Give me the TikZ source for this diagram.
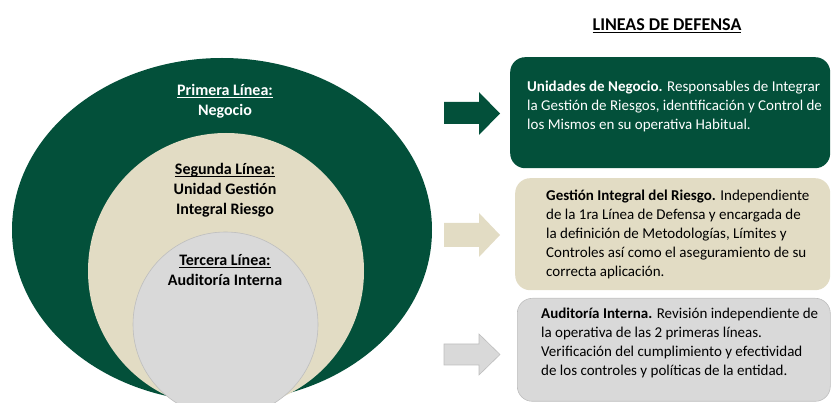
\documentclass[tikz,border=0pt]{standalone}
\usepackage{fontspec}
\setmainfont{Carlito}
\definecolor{dgreen}{RGB}{3,80,58}
\definecolor{beige}{RGB}{226,220,196}
\definecolor{lgrey}{RGB}{217,217,217}
\definecolor{bgrey}{RGB}{190,190,190}
\newcommand\myul[1]{\leavevmode\setbox0\hbox{#1}\rlap{\rule[-2.3pt]{\wd0}{0.9pt}}\box0}
\tikzset{
  boxshape/.style={rounded corners=15pt, inner sep=0pt, anchor=north west},
  boxtext/.style={anchor=base west, inner sep=0pt, font=\fontsize{15}{18.8}\selectfont},
  circtext/.style={anchor=base, inner sep=0pt, font=\fontsize{16}{20}\selectfont\bfseries},
  blockarrow/.style={line width=0.6pt}
}
\begin{document}
\begin{tikzpicture}[x=1pt,y=-1pt]
\useasboundingbox (0,0) rectangle (831,403);
\begin{scope}
\clip (0,0) rectangle (831,403);
\fill[dgreen] (222,230) ellipse [x radius=210, y radius=172];
\fill[beige] (226,271) circle [radius=138];
\filldraw[fill=lgrey, draw=bgrey, line width=0.6pt] (225.5,324.5) circle [radius=92.5];
\end{scope}
% circle labels
\node[circtext, text=white] (l1) at (225,96) {\parbox[t]{200pt}{\centering \myul{Primera Línea:}\\ Negocio}};
\node[circtext, text=black] (l2) at (225,175) {\parbox[t]{200pt}{\centering \myul{Segunda Línea:}\\ Unidad Gestión\\ Integral Riesgo}};
\node[circtext, text=black] (l3) at (225,266) {\parbox[t]{200pt}{\centering \myul{Tercera Línea:}\\ Auditoría Interna}};
% title
\node[anchor=base, inner sep=0pt, font=\fontsize{18}{20}\selectfont\bfseries] (title) at (667,31) {\myul{LINEAS DE DEFENSA}};
% boxes
\node[boxshape, fill=dgreen, minimum width=320pt, minimum height=111pt] (b1) at (510,57) {};
\node[boxshape, fill=beige, minimum width=315pt, minimum height=112pt] (b2) at (515,178) {};
\node[boxshape, fill=lgrey, draw=bgrey, line width=0.6pt, minimum width=313pt, minimum height=103pt] (b3) at (517,298) {};
\node[boxtext, text=white] (t1) at (527,92) {\parbox[t]{310pt}{\raggedright \textbf{Unidades de Negocio.} Responsables de Integrar\\ la Gestión de Riesgos, identificación y Control de\\ los Mismos en su operativa Habitual.}};
\node[boxtext, text=black] (t2) at (546,201) {\parbox[t]{290pt}{\raggedright \textbf{Gestión Integral del Riesgo.} Independiente\\ de la 1ra Línea de Defensa y encargada de\\ la definición de Metodologías, Límites y\\ Controles así como el aseguramiento de su\\ correcta aplicación.}};
\node[boxtext, text=black] (t3) at (541,319) {\parbox[t]{290pt}{\raggedright \textbf{Auditoría Interna.} Revisión independiente de\\ la operativa de las 2 primeras líneas.\\ Verificación del cumplimiento y efectividad\\ de los controles y políticas de la entidad.}};
% block arrows
\fill[dgreen] (444,102) -- (479,102) -- (479,92) -- (500,113.5) -- (479,135) -- (479,124) -- (444,124) -- cycle;
\fill[beige] (444,223) -- (479,223) -- (479,213) -- (500,235) -- (479,257) -- (479,247) -- (444,247) -- cycle;
\filldraw[fill=lgrey, draw=bgrey, blockarrow] (444,344) -- (479,344) -- (479,334) -- (500,354.5) -- (479,375) -- (479,365) -- (444,365) -- cycle;
\end{tikzpicture}
\end{document}
